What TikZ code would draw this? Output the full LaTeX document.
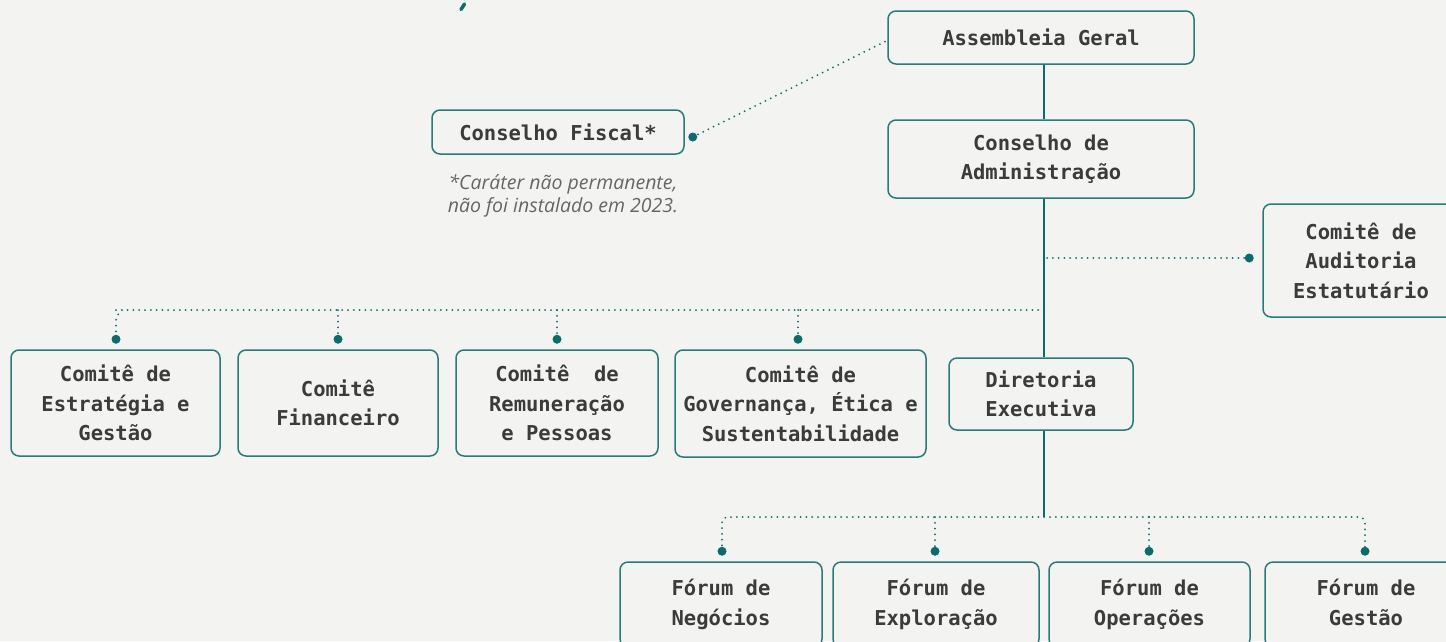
\documentclass[tikz,border=0pt]{standalone}
\usepackage{fontspec}
\setmainfont{DejaVu Sans Mono}
\newfontfamily\notefont{Open Sans}
\usetikzlibrary{calc}
\definecolor{bg}{HTML}{F3F3F1}
\definecolor{tealline}{HTML}{0E6B6B}
\definecolor{boxc}{HTML}{2A7A7A}
\definecolor{txt}{HTML}{3B3B3B}
\definecolor{notec}{HTML}{666666}
\newcommand\boxfont{\bfseries\fontsize{20.5}{29.5}\selectfont}
\tikzset{
  orgbox/.style={draw=boxc, line width=1.5pt, rounded corners=8pt, fill=bg, align=center,
    inner sep=0pt, font=\boxfont, text=txt},
  solidline/.style={draw=tealline, line width=2.5pt},
  dotline/.style={draw=tealline, line width=2pt, line cap=round, dash pattern=on 0pt off 5.8pt},
  enddot/.style={fill=tealline},
}
\begin{document}
\begin{tikzpicture}[x=1pt,y=-1pt]
\fill[bg] (0,0) rectangle (1446,641);
\useasboundingbox (0,0) rectangle (1446,641);
\clip (0,0) rectangle (1446,641);

% fragment of a title at the top
\draw[tealline, line width=3.5pt, line cap=round] (464.5,4) -- (461,9.5);

% boxes
\node[orgbox, minimum width=306pt, minimum height=53pt] (ag) at (1041,37.5) {Assembleia Geral};
\node[orgbox, minimum width=252pt, minimum height=44pt] (cf) at (558,132) {Conselho Fiscal*};
\node[font=\notefont\itshape\fontsize{19.5}{23}\selectfont, text=notec, align=center, inner sep=0pt] (note) at (563,195.5) {*Caráter não permanente,\\não foi instalado em 2023.};
\node[orgbox, minimum width=306pt, minimum height=78pt] (ca) at (1041,159) {Conselho de\\Administração};
\node[orgbox, minimum width=196pt, minimum height=113pt] (cae) at (1361,260.5) {Comitê de\\Auditoria\\Estatutário};

\node[orgbox, minimum width=209pt, minimum height=106pt] (c1) at (115.5,403) {Comitê de\\Estratégia e\\Gestão};
\node[orgbox, minimum width=200pt, minimum height=106pt] (c2) at (338,403) {Comitê\\Financeiro};
\node[orgbox, minimum width=202pt, minimum height=106pt] (c3) at (557,403) {Comitê~ de\\Remuneração\\e Pessoas};
\node[orgbox, minimum width=251pt, minimum height=107pt] (c4) at (800.5,403.5) {Comitê de\\Governança, Ética e\\Sustentabilidade};
\node[orgbox, minimum width=184pt, minimum height=72pt] (de) at (1041,394) {Diretoria\\Executiva};

\node[orgbox, minimum width=202pt, minimum height=85pt] (f1) at (721,604.5) {Fórum de\\Negócios\vphantom{gç}};
\node[orgbox, minimum width=206pt, minimum height=85pt] (f2) at (936,604.5) {Fórum de\\Exploração\vphantom{gç}};
\node[orgbox, minimum width=201pt, minimum height=85pt] (f3) at (1149.5,604.5) {Fórum de\\Operações\vphantom{gç}};
\node[orgbox, minimum width=202pt, minimum height=85pt] (f4) at (1366,604.5) {Fórum de\\Gestão\vphantom{gç}};

% spine
\coordinate (spine) at (1044,0);
\coordinate (bc) at (1044,310);
\coordinate (bf) at (1044,517);
\draw[solidline] (ag.south -| spine) -- (ca.north -| spine);
\draw[solidline] (ca.south -| spine) -- (de.north -| spine);
\draw[solidline] (de.south -| spine) -- (bf);

% conselho fiscal
\coordinate (cfd) at ($(cf.east)+(8,5)$);
\draw[dotline] (cfd) -- ($(ag.west)+(0,3)$);
\fill[enddot] (cfd) circle (4.5pt);

% auditoria
\coordinate (aud) at ($(cae.west)+(-13,-2.5)$);
\draw[dotline] (aud -| spine) ++(3,0) -- (aud);
\fill[enddot] (aud) circle (4.5pt);

% comites
\coordinate (d1) at ($(c1.north)+(0.5,-10)$);
\coordinate (d2) at ($(c2.north)+(0,-10)$);
\coordinate (d3) at ($(c3.north)+(0,-10)$);
\coordinate (d4) at ($(c4.north)+(-2.5,-10)$);
\draw[dotline, rounded corners=6pt] (bc) -- (bc -| d1) ++(6,0) -- ($(d1)+(0,-24)$) -- (d1);
\foreach \d in {d2,d3,d4} \draw[dotline] (bc -| \d) -- (\d);
\foreach \d in {d1,d2,d3,d4} \fill[enddot] (\d) circle (4.5pt);

% forums
\coordinate (g1) at ($(f1.north)+(1,-10)$);
\coordinate (g2) at ($(f2.north)+(-1,-10)$);
\coordinate (g3) at ($(f3.north)+(-0.5,-10)$);
\coordinate (g4) at ($(f4.north)+(-1,-10)$);
\draw[dotline, rounded corners=6pt] (g1) -- (g1 |- bf) -- (g4 |- bf) -- (g4);
\foreach \d in {g2,g3} \draw[dotline] (bf -| \d) -- (\d);
\foreach \d in {g1,g2,g3,g4} \fill[enddot] (\d) circle (4.5pt);
\end{tikzpicture}
\end{document}
